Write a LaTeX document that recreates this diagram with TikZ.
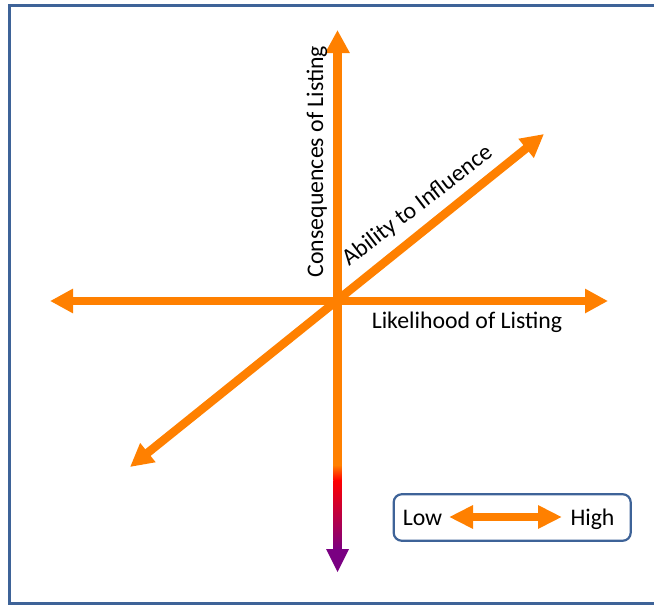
\documentclass[tikz,border=0pt]{standalone}
\usepackage{fontspec}
\setmainfont{Carlito}
\usetikzlibrary{arrows.meta}
\definecolor{axorange}{HTML}{FF8000}
\definecolor{axred}{HTML}{FF0000}
\definecolor{axpurple}{HTML}{7A0082}
\definecolor{frameblue}{HTML}{3E6398}
\tikzset{
  axis/.style={draw=axorange, line width=8.5pt},
  bigtip/.tip={Triangle[length=23pt,width=23pt]},
  smalltip/.tip={Triangle[length=24pt,width=22pt]},
  lbl/.style={font=\fontsize{23.8}{28}\selectfont, inner sep=0pt, anchor=base, text=black},
}
\begin{document}
\begin{tikzpicture}[x=1pt,y=-1pt]
\useasboundingbox (0,0) rectangle (654,605);
\begin{scope}
\clip (0,0) rectangle (654,605);
% outer frame (right side falls outside the picture)
\draw[frameblue, line width=3pt] (9.8,5.8) rectangle (670,603.5);
\end{scope}

% named points
\coordinate (C) at (337.5,301);
\coordinate (top) at (337.5,30);
\coordinate (vmid) at (337.5,466);
\coordinate (L) at (50,301);
\coordinate (R) at (608,301);
\coordinate (dl) at (130,467);
\coordinate (ur) at (544,134);

% horizontal axis
\draw[axis, bigtip-bigtip] (L) -- (R);
% diagonal axis
\draw[axis, bigtip-bigtip] (dl) -- (ur);
% vertical axis: orange upper part
\draw[axis, -bigtip] (vmid) -- (top);
% vertical axis: gradient lower part
\shade[top color=axorange, bottom color=axred] (333.25,465) rectangle (341.75,480.5);
\shade[top color=axred, bottom color=axpurple] (333.25,480) rectangle (341.75,550);
\fill[axpurple] (326,549) -- (349,549) -- (337.5,572) -- cycle;

% labels
\node[lbl, rotate=90] (cons) at (323,161.5) {Consequences of Listing};
\node[lbl, rotate=37.5] (abil) at (421.5,211) {Ability to Influence};
\node[lbl] (like) at (467,328) {Likelihood of Listing};

% legend
\node[draw=frameblue, line width=2.2pt, rounded corners=8pt,
      minimum width=237pt, minimum height=46.5pt, inner sep=0pt] (legend) at (512.2,517.5) {};
\node[lbl] (low) at (422.5,525) {Low};
\node[lbl] (high) at (592.5,525) {High};
\coordinate (la) at (449,517);
\coordinate (lb) at (562,517);
\draw[axis, line width=8pt, smalltip-smalltip] (la) -- (lb);
\end{tikzpicture}
\end{document}
